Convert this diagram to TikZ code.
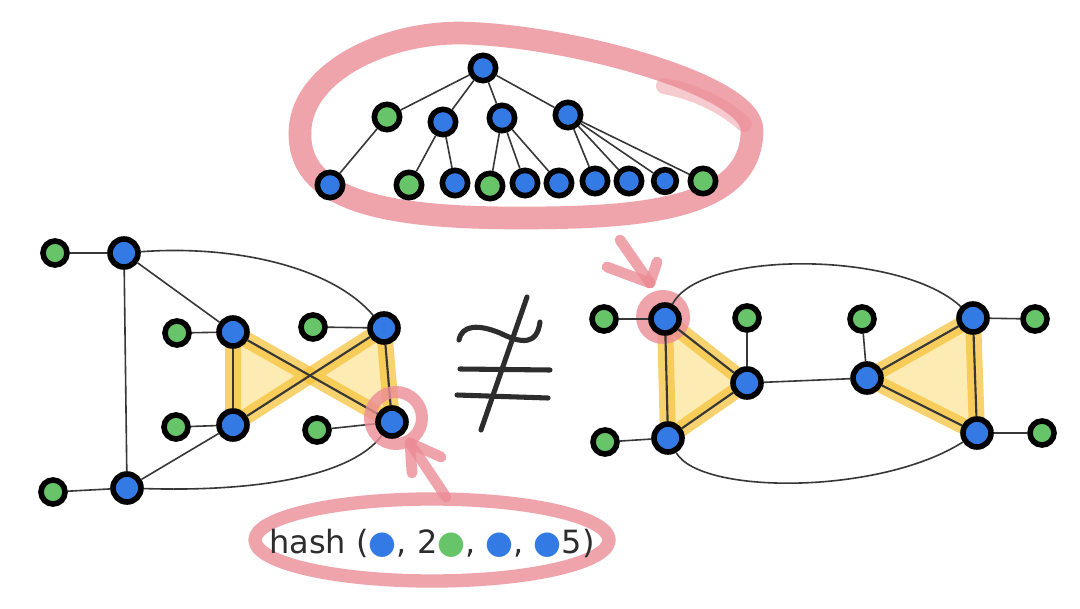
\documentclass[tikz,border=0pt]{standalone}
\usepackage{fontspec}
\newfontfamily\handfont{DejaVu Sans}
\definecolor{nodeblue}{RGB}{52,122,228}
\definecolor{nodegreen}{RGB}{104,196,104}
\definecolor{edgegray}{RGB}{55,55,55}
\definecolor{pinkc}{RGB}{236,140,150}
\definecolor{hlyellow}{RGB}{246,192,50}
\definecolor{hlfill}{RGB}{252,230,160}
\definecolor{inkgray}{RGB}{45,45,45}
\pgfdeclarelayer{back}
\pgfdeclarelayer{mid}
\pgfsetlayers{back,mid,main}
\begin{document}
\begin{tikzpicture}[x=0.75pt,y=-0.75pt,
 bnode/.style={circle,draw=black,line width=4.2pt,fill=nodeblue,minimum size=21pt,inner sep=0pt},
 gnode/.style={circle,draw=black,line width=4.2pt,fill=nodegreen,minimum size=18pt,inner sep=0pt},
 tbnode/.style={bnode,minimum size=19pt},
 tgnode/.style={gnode,minimum size=19pt},
 edge/.style={draw=edgegray,line width=1.2pt},
 hledge/.style={draw=edgegray,line width=1.6pt},
 hltri/.style={fill=hlfill,fill opacity=0.8,draw=hlyellow,draw opacity=0.7,line width=12pt,line join=round},
 pinkband/.style={draw=pinkc,draw opacity=0.8,line cap=round,line join=round},
 ink/.style={draw=inkgray,line width=3.8pt,line cap=round,line join=round}
]
\useasboundingbox (0,0) rectangle (1080,609);

% ---------- nodes: tree ----------
\node[tbnode] (t0) at (483,68) {};
\node[tgnode] (t1) at (387,117) {};
\node[tbnode] (t2) at (443,122) {};
\node[tbnode] (t3) at (502,118) {};
\node[tbnode] (t4) at (568,115) {};
\node[tbnode] (l1) at (330,185) {};
\node[tgnode] (l2) at (409,185) {};
\node[tbnode] (l3) at (455,183) {};
\node[tgnode] (l4) at (490,186) {};
\node[tbnode] (l5) at (525,183) {};
\node[tbnode] (l6) at (559,183) {};
\node[tbnode] (l7) at (595,181) {};
\node[tbnode] (l8) at (629,181) {};
\node[tbnode,minimum size=17pt] (l9) at (665,181) {};
\node[tgnode] (l10) at (703,181) {};

% ---------- nodes: left graph ----------
\node[gnode] (g1) at (55,253) {};
\node[bnode] (b1) at (124,253) {};
\node[gnode] (g2) at (177,333) {};
\node[bnode] (b2) at (233,332) {};
\node[gnode] (g3) at (313,327) {};
\node[bnode] (b3) at (384,328) {};
\node[gnode] (g4) at (176,427) {};
\node[bnode] (b4) at (233,425) {};
\node[gnode] (g5) at (317,430) {};
\node[bnode] (b5) at (392,422) {};
\node[gnode] (g6) at (53,492) {};
\node[bnode] (b6) at (127,488) {};

% ---------- nodes: right graph ----------
\node[gnode] (gA) at (604,319) {};
\node[bnode] (A) at (665,319) {};
\node[gnode] (gC) at (747,318) {};
\node[bnode] (C) at (747,383) {};
\node[gnode] (gD) at (862,319) {};
\node[bnode] (D) at (867,378) {};
\node[bnode] (E) at (973,318) {};
\node[gnode] (gE) at (1035,319) {};
\node[gnode] (gB) at (605,442) {};
\node[bnode] (B) at (668,438) {};
\node[bnode] (F) at (977,433) {};
\node[gnode] (gF) at (1042,433) {};

% ---------- back layer ----------
\begin{pgfonlayer}{back}
\fill[white] (0,0) rectangle (1080,609);
\draw[pinkband,line width=17pt] (300,135) .. controls (298,75) and (380,33) .. (460,33)
  .. controls (570,35) and (752,85) .. (752,130)
  .. controls (752,210) and (640,218) .. (520,218)
  .. controls (400,218) and (300,205) .. cycle;
\draw[pinkband,draw opacity=0.45,line width=12pt] (664,86) .. controls (692,91) and (722,104) .. (744,124);
\draw[pinkband,line width=10pt] (432,540) ellipse [x radius=177, y radius=41];
\draw[hltri] (b2.center) -- (b4.center) -- (intersection of b2.center--b5.center and b3.center--b4.center) -- cycle;
\draw[hltri] (b3.center) -- (b5.center) -- (intersection of b2.center--b5.center and b3.center--b4.center) -- cycle;
\draw[hltri] (A.center) -- (B.center) -- (C.center) -- cycle;
\draw[hltri] (D.center) -- (E.center) -- (F.center) -- cycle;
\fill[pinkc,fill opacity=0.8] (663,317) circle [radius=27];
\end{pgfonlayer}

% ---------- mid layer: edges and arrows ----------
\begin{pgfonlayer}{mid}
% tree
\draw[edge] (t0) -- (t1);
\draw[edge] (t0) -- (t2);
\draw[edge] (t0) -- (t3);
\draw[edge] (t0) -- (t4);
\draw[edge] (t1) -- (l1);
\draw[edge] (t2) -- (l2);
\draw[edge] (t2) -- (l3);
\draw[edge] (t3) -- (l4);
\draw[edge] (t3) -- (l5);
\draw[edge] (t3) -- (l6);
\draw[edge] (t4) -- (l7);
\draw[edge] (t4) -- (l8);
\draw[edge] (t4) -- (l9);
\draw[edge] (t4) -- (l10);
% left graph
\draw[edge] (g1) -- (b1);
\draw[edge] (b1) -- (b6);
\draw[edge] (b1) -- (b2);
\draw[edge] (b1) .. controls (230,245) and (330,265) .. (b3);
\draw[edge] (g2) -- (b2);
\draw[edge] (g3) -- (b3);
\draw[hledge] (b2) -- (b4);
\draw[hledge] (b3) -- (b5);
\draw[hledge] (b2) -- (b5);
\draw[hledge] (b3) -- (b4);
\draw[edge] (g4) -- (b4);
\draw[edge] (g5) -- (b5);
\draw[edge] (b6) -- (b4);
\draw[edge] (b6) .. controls (250,492) and (350,478) .. (b5);
\draw[edge] (g6) -- (b6);
% right graph
\draw[edge] (gA) -- (A);
\draw[hledge] (A) -- (B);
\draw[hledge] (A) -- (C);
\draw[hledge] (B) -- (C);
\draw[edge] (gB) -- (B);
\draw[edge] (gC) -- (C);
\draw[edge] (C) -- (D);
\draw[edge] (gD) -- (D);
\draw[hledge] (D) -- (E);
\draw[hledge] (D) -- (F);
\draw[hledge] (E) -- (F);
\draw[edge] (E) -- (gE);
\draw[edge] (F) -- (gF);
\draw[edge] (A) .. controls (700,250) and (900,250) .. (E);
\draw[edge] (B) .. controls (700,495) and (880,495) .. (F);
% pink ring and arrows
\draw[pinkband,line width=9pt] (396,418) circle [radius=26];
\coordinate (toptail) at (620,240);
\coordinate (toptip) at (650,283);
\draw[pinkband,line width=8pt] (toptail) -- (toptip);
\draw[pinkband,line width=8pt] (607,267) -- (toptip);
\draw[pinkband,line width=8pt] (657,262) -- (toptip);
\coordinate (bottail) at (446,497);
\coordinate (bottip) at (410,443);
\draw[pinkband,line width=8pt] (bottail) -- (bottip);
\draw[pinkband,line width=8pt] (441,457) -- (bottip);
\draw[pinkband,line width=8pt] (412,473) -- (bottip);
\end{pgfonlayer}

% ---------- not-congruent sign ----------
\draw[ink] (459,340) .. controls (462,325) and (478,324) .. (500,333) .. controls (522,344) and (537,345) .. (540,322);
\draw[ink] (460,369) -- (550,370);
\draw[ink] (457,395) -- (548,398);
\draw[ink] (527,297) -- (481,430);

% ---------- hash label ----------
\node[font=\handfont\fontsize{24}{28}\selectfont,text=inkgray,inner sep=0pt] (hashlabel) at (432,543)
 {hash (\textcolor{nodeblue}{●}, 2\textcolor{nodegreen}{●}, \textcolor{nodeblue}{●}, \textcolor{nodeblue}{●}5)};
\end{tikzpicture}
\end{document}
